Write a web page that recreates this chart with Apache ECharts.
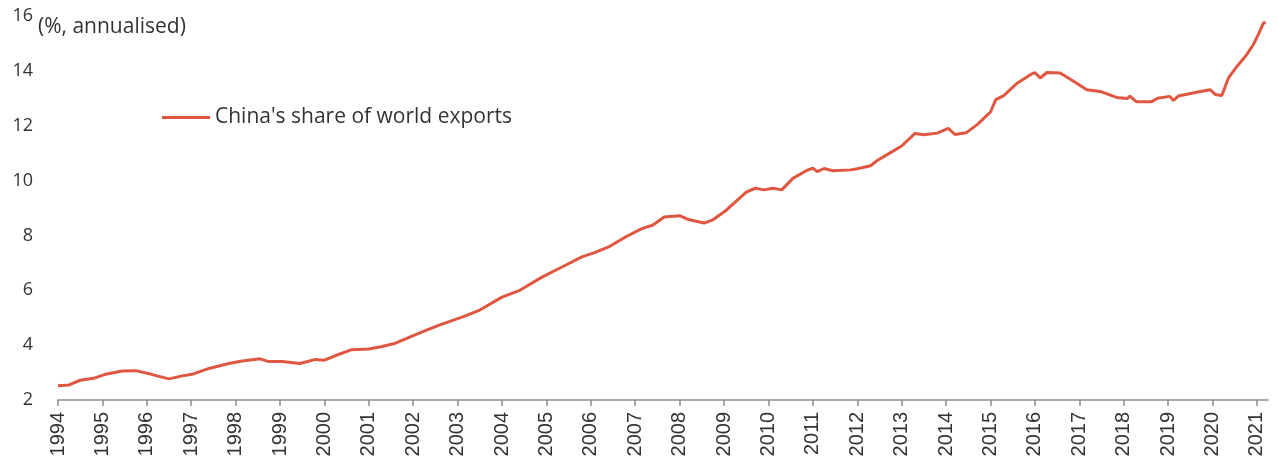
<!DOCTYPE html>
<html>
<head>
<meta charset="utf-8">
<script src="https://cdn.jsdelivr.net/npm/echarts@6/dist/echarts.min.js"></script>
<style>
  html, body { margin: 0; padding: 0; background: #fff; }
  #main { width: 1278px; height: 470px; }
</style>
</head>
<body>
<div id="main"></div>
<script>
// decimal year of each reading, and China's share of world exports (%)
var dates = [
    1994.00, 1994.25, 1994.50, 1994.80, 1995.10, 1995.45, 1995.75, 1996.05, 1996.25, 1996.50,
    1996.80, 1997.05, 1997.40, 1997.85, 1998.15, 1998.55, 1998.75, 1999.05, 1999.45, 1999.80,
    2000.00, 2000.30, 2000.60, 2001.00, 2001.30, 2001.60, 2002.00, 2002.30, 2002.60, 2003.10,
    2003.50, 2004.00, 2004.40, 2004.90, 2005.35, 2005.80, 2006.10, 2006.40, 2006.80, 2007.15,
    2007.40, 2007.65, 2008.00, 2008.20, 2008.55, 2008.75, 2009.05, 2009.50, 2009.70, 2009.90,
    2010.10, 2010.30, 2010.55, 2010.85, 2011.00, 2011.10, 2011.25, 2011.45, 2011.85, 2012.00,
    2012.30, 2012.45, 2012.75, 2013.00, 2013.30, 2013.50, 2013.80, 2014.05, 2014.20, 2014.45,
    2014.70, 2015.00, 2015.12, 2015.30, 2015.60, 2015.90, 2016.00, 2016.12, 2016.27, 2016.57,
    2016.87, 2017.17, 2017.47, 2017.84, 2018.08, 2018.14, 2018.29, 2018.62, 2018.76, 2019.04,
    2019.12, 2019.23, 2019.64, 2019.95, 2020.06, 2020.21, 2020.36, 2020.55, 2020.77, 2020.92,
    2021.03, 2021.15, 2021.20
];
var share = [
    2.52, 2.55, 2.72, 2.79, 2.95, 3.06, 3.07, 2.96, 2.87, 2.77,
    2.88, 2.95, 3.15, 3.33, 3.42, 3.50, 3.40, 3.40, 3.33, 3.48,
    3.45, 3.65, 3.83, 3.86, 3.95, 4.07, 4.35, 4.55, 4.74, 5.02,
    5.28, 5.75, 6.00, 6.48, 6.85, 7.22, 7.38, 7.58, 7.96, 8.25,
    8.38, 8.67, 8.72, 8.58, 8.45, 8.57, 8.92, 9.58, 9.72, 9.66,
    9.72, 9.66, 10.08, 10.36, 10.45, 10.33, 10.44, 10.36, 10.39, 10.43,
    10.54, 10.73, 11.02, 11.26, 11.72, 11.67, 11.73, 11.90, 11.68, 11.74,
    12.04, 12.50, 12.95, 13.10, 13.55, 13.86, 13.94, 13.74, 13.94, 13.92,
    13.62, 13.31, 13.25, 13.03, 12.99, 13.08, 12.87, 12.87, 13.00, 13.07,
    12.92, 13.08, 13.22, 13.31, 13.14, 13.10, 13.74, 14.16, 14.59, 14.96,
    15.32, 15.75, 15.75
];
var years = [];
for (var y = 1994; y <= 2021; y++) years.push(y);

var seriesName = "China's share of world exports";
var lineColor = '#df5641';

var points = dates.map(function (d, i) { return [d, share[i]]; });

var chart = echarts.init(document.getElementById('main'));
chart.setOption({
    animation: false,
    grid: {
        left: 58,
        right: 10,
        top: 16,
        bottom: 70
    },
    legend: {
        data: [seriesName],
        left: 157,
        top: 102,
        itemWidth: 48,
        itemHeight: 3,
        icon: 'rect',
        itemGap: 5,
        textStyle: {
            fontFamily: 'Open Sans',
            fontSize: 21,
            color: '#333'
        }
    },
    xAxis: {
        type: 'value',
        min: 1994,
        max: 2021.25,
        interval: 1,
        axisLine: {
            show: true,
            lineStyle: { color: '#8c8c8c', width: 1.5 }
        },
        axisTick: {
            show: true,
            length: 6,
            customValues: years,
            lineStyle: { color: '#8c8c8c', width: 1.5 }
        },
        axisLabel: {
            customValues: years,
            formatter: function (v) { return String(v); },
            rotate: 90,
            margin: 12,
            fontFamily: 'Liberation Sans',
            fontSize: 20,
            color: '#333'
        },
        splitLine: { show: false }
    },
    yAxis: {
        type: 'value',
        min: 2,
        max: 16,
        interval: 2,
        axisLine: { show: false },
        axisTick: { show: false },
        axisLabel: {
            margin: 25,
            fontFamily: 'Open Sans',
            fontSize: 18,
            color: '#333'
        },
        splitLine: { show: false }
    },
    graphic: [
        {
            type: 'text',
            left: 38,
            top: 17,
            style: {
                text: '(%, annualised)',
                font: '21px "Open Sans"',
                fill: '#333'
            }
        }
    ],
    series: [
        {
            name: seriesName,
            type: 'line',
            data: points,
            showSymbol: false,
            symbol: 'none',
            lineStyle: { color: lineColor, width: 3 },
            itemStyle: { color: lineColor }
        }
    ]
});
</script>
</body>
</html>
